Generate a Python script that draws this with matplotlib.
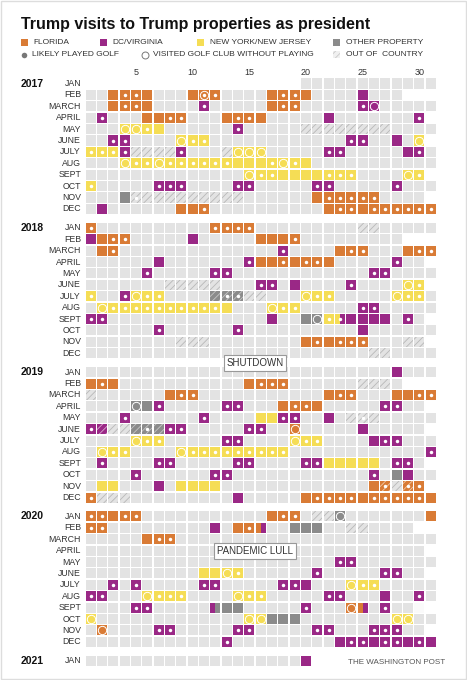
import calendar
import matplotlib.pyplot as plt
from matplotlib.patches import Rectangle

plt.rcParams['font.family'] = ['Liberation Sans', 'DejaVu Sans']
plt.rcParams['hatch.linewidth'] = 0.6

years = [2017, 2018, 2019, 2020, 2021]
month_names = ['JAN', 'FEB', 'MARCH', 'APRIL', 'MAY', 'JUNE',
               'JULY', 'AUG', 'SEPT', 'OCT', 'NOV', 'DEC']
day_ticks = [5, 10, 15, 20, 25, 30]
first_day = (2017, 1, 20)
last_day = (2021, 1, 20)

# (month, first day, last day, place)
# F florida, D dc/virginia, N ny/nj, O other, X abroad, ?X = hatched, a|b = split cell
visits_2017 = [
    (2, 3, 6, 'F'), (2, 10, 12, 'F'), (2, 17, 20, 'F'), (2, 25, 25, 'D'),
    (3, 3, 6, 'F'), (3, 11, 11, 'D'), (3, 17, 19, 'F'), (3, 25, 26, 'D'),
    (4, 2, 2, 'D'), (4, 6, 9, 'F'), (4, 13, 16, 'F'), (4, 22, 22, 'D'), (4, 30, 30, 'D'),
    (5, 4, 7, 'N'), (5, 14, 14, 'D'), (5, 20, 27, 'X'),
    (6, 3, 4, 'D'), (6, 9, 11, 'N'), (6, 24, 25, 'D'), (6, 28, 28, 'D'), (6, 30, 30, 'N'),
    (7, 1, 3, 'N'), (7, 4, 4, 'D'), (7, 5, 8, 'X'), (7, 9, 9, 'D'), (7, 13, 13, 'X'),
    (7, 14, 16, 'N'), (7, 22, 23, 'D'), (7, 29, 30, 'D'),
    (8, 4, 20, 'N'),
    (9, 15, 24, 'N'), (9, 29, 30, 'N'),
    (10, 1, 1, 'N'), (10, 7, 9, 'D'), (10, 14, 15, 'D'), (10, 21, 22, 'D'), (10, 28, 28, 'D'),
    (11, 4, 4, 'O'), (11, 5, 14, 'X'), (11, 21, 26, 'F'),
    (12, 2, 2, 'D'), (12, 9, 11, 'F'), (12, 22, 31, 'F'),
]
golf_2017 = [
    (2, [4, 5, 11, 12, 18, 19]), (3, [4, 5, 11, 18, 19, 25]), (4, [2, 8, 9, 14, 15, 30]),
    (5, [6, 14]), (6, [3, 4, 10, 11, 24, 25]), (7, [1, 2, 3, 4, 9, 22, 23, 30]),
    (8, [5, 6, 8, 9, 10, 11, 12, 13, 17, 19]), (9, [16, 17, 22, 23, 24, 30]),
    (10, [1, 7, 8, 9, 14, 15, 21, 22, 28]), (11, [5, 22, 23, 24, 25, 26]),
    (12, [11, 23, 24, 26, 27, 28, 29, 30, 31]),
]
circle_2017 = [
    (2, [11]), (3, [26]), (5, [4, 5]), (6, [9, 30]), (7, [14, 15, 16]),
    (8, [4, 7, 18]), (9, [15, 29]),
]

visits_2018 = [
    (1, 1, 1, 'F'), (1, 12, 15, 'F'), (1, 25, 26, 'X'),
    (2, 1, 1, 'D'), (2, 2, 4, 'F'), (2, 10, 10, 'D'), (2, 16, 19, 'F'),
    (3, 2, 3, 'F'), (3, 18, 18, 'D'), (3, 23, 25, 'F'), (3, 29, 31, 'F'),
    (4, 7, 7, 'D'), (4, 15, 15, 'D'), (4, 16, 22, 'F'), (4, 28, 28, 'D'),
    (5, 6, 6, 'D'), (5, 12, 13, 'D'), (5, 26, 27, 'D'),
    (6, 8, 12, 'X'), (6, 16, 17, 'D'), (6, 19, 19, 'D'), (6, 24, 24, 'D'), (6, 29, 30, 'N'),
    (7, 1, 1, 'N'), (7, 4, 4, 'D'), (7, 5, 7, 'N'), (7, 12, 14, 'OX'), (7, 15, 16, 'X'),
    (7, 20, 22, 'N'), (7, 28, 30, 'N'),
    (8, 2, 13, 'N'), (8, 17, 19, 'N'), (8, 25, 26, 'D'),
    (9, 1, 2, 'D'), (9, 17, 17, 'D'), (9, 20, 21, 'O'), (9, 22, 22, 'N'), (9, 23, 23, 'N|D'),
    (9, 24, 27, 'D'), (9, 29, 29, 'D'),
    (10, 7, 7, 'D'), (10, 14, 14, 'D'), (10, 25, 25, 'D'),
    (11, 9, 11, 'X'), (11, 20, 25, 'F'), (11, 29, 30, 'X'),
    (12, 26, 27, 'X'),
]
golf_2018 = [
    (1, [1, 12, 13, 14, 15]), (2, [3, 4, 19]), (3, [3, 18, 24, 25, 30, 31]),
    (4, [15, 18, 20, 21, 28]), (5, [6, 12, 13, 26, 27]), (6, [16, 17, 24, 30]),
    (7, [1, 4, 6, 7, 13, 14, 21, 22, 29, 30]),
    (8, [3, 4, 5, 6, 7, 8, 9, 10, 11, 12, 18, 19, 25, 26]),
    (9, [1, 2, 22, 23, 29]), (10, [7, 14]), (11, [21, 23, 24, 25]),
]
circle_2018 = [(6, [29]), (7, [5, 20, 28]), (8, [2, 17]), (9, [21])]

visits_2019 = [
    (1, 28, 28, 'D'),
    (2, 1, 3, 'F'), (2, 15, 18, 'F'), (2, 25, 27, 'X'),
    (3, 1, 1, 'X'), (3, 8, 10, 'F'), (3, 22, 24, 'F'), (3, 28, 31, 'F'),
    (4, 5, 6, 'O'), (4, 7, 7, 'D'), (4, 13, 14, 'D'), (4, 18, 21, 'F'), (4, 27, 28, 'D'),
    (5, 4, 4, 'D'), (5, 11, 11, 'D'), (5, 16, 17, 'N'), (5, 18, 19, 'D'), (5, 22, 22, 'D'),
    (5, 24, 26, 'X'),
    (6, 1, 1, 'D'), (6, 2, 2, 'DX'), (6, 3, 4, 'X'), (6, 5, 7, 'OX'), (6, 8, 9, 'D'),
    (6, 15, 16, 'D'), (6, 19, 19, 'F'), (6, 25, 25, 'D'),
    (7, 5, 7, 'N'), (7, 13, 14, 'D'), (7, 19, 21, 'N'), (7, 26, 28, 'D'),
    (8, 2, 4, 'N'), (8, 9, 18, 'N'), (8, 31, 31, 'D'),
    (9, 2, 2, 'D'), (9, 7, 8, 'D'), (9, 14, 15, 'D'), (9, 20, 21, 'D'), (9, 22, 26, 'N'),
    (9, 28, 29, 'D'),
    (10, 5, 5, 'D'), (10, 12, 13, 'D'), (10, 26, 26, 'D'), (10, 28, 28, 'O'), (10, 29, 29, 'D'),
    (11, 2, 3, 'N'), (11, 7, 7, 'D'), (11, 9, 12, 'N'), (11, 26, 26, 'F'), (11, 27, 27, 'FX'),
    (11, 28, 28, 'X'), (11, 29, 29, 'FX'), (11, 30, 30, 'F'),
    (12, 1, 1, 'F'), (12, 2, 4, 'X'), (12, 14, 14, 'D'), (12, 20, 31, 'F'),
]
golf_2019 = [
    (2, [2, 16, 17, 18]), (3, [9, 10, 23, 24, 30, 31]), (4, [7, 13, 14, 19, 20, 27, 28]),
    (5, [4, 11, 18, 19, 25]), (6, [1, 6, 8, 9, 15, 16]), (7, [6, 7, 13, 14, 20, 21, 27, 28]),
    (8, [3, 4, 10, 11, 12, 13, 14, 15, 16, 17, 18, 31]),
    (9, [2, 7, 8, 14, 15, 20, 21, 28, 29]), (10, [5, 12, 13, 26]), (11, [27, 29, 30]),
    (12, [1, 21, 22, 23, 24, 26, 27, 28, 29, 30]),
]
circle_2019 = [(4, [5]), (6, [19]), (7, [5, 19]), (8, [2, 9])]

visits_2020 = [
    (1, 1, 5, 'F'), (1, 17, 19, 'F'), (1, 21, 22, 'X'), (1, 23, 23, 'O'), (1, 31, 31, 'F'),
    (2, 1, 2, 'F'), (2, 12, 12, 'D'), (2, 14, 15, 'F'), (2, 16, 16, 'F|D'), (2, 19, 21, 'O'),
    (2, 24, 25, 'X'),
    (3, 6, 8, 'F'),
    (5, 23, 24, 'D'),
    (6, 11, 14, 'N'), (6, 21, 21, 'D'), (6, 27, 28, 'D'),
    (7, 3, 3, 'D'), (7, 5, 5, 'D'), (7, 11, 12, 'D'), (7, 18, 20, 'D'), (7, 24, 26, 'N'),
    (8, 1, 2, 'D'), (8, 6, 9, 'N'), (8, 14, 16, 'N'), (8, 22, 23, 'D'), (8, 27, 27, 'D'),
    (8, 30, 30, 'D'),
    (9, 5, 6, 'D'), (9, 12, 12, 'D|O'), (9, 13, 14, 'O'), (9, 20, 20, 'D'), (9, 24, 24, 'F'),
    (9, 25, 25, 'F|D'), (9, 27, 27, 'D'), (9, 30, 30, 'W'),
    (10, 1, 1, 'N'), (10, 15, 16, 'N'), (10, 17, 19, 'O'), (10, 28, 29, 'N'),
    (11, 2, 2, 'F'), (11, 7, 8, 'D'), (11, 14, 15, 'D'), (11, 21, 22, 'D'), (11, 26, 28, 'D'),
    (12, 13, 13, 'D'), (12, 23, 31, 'D'),
]
golf_2020 = [
    (1, [1, 2, 4, 5, 18, 19]), (2, [1, 2, 15]), (3, [7, 8]), (5, [23, 24]),
    (6, [14, 21, 27, 28]), (7, [3, 5, 11, 12, 18, 19, 25, 26]),
    (8, [1, 2, 7, 8, 9, 15, 16, 22, 23, 30]), (9, [5, 6, 20, 27]),
    (11, [7, 8, 14, 15, 21, 22, 26, 27, 28]), (12, [13, 24, 25, 27, 28, 30]),
]
circle_2020 = [(1, [23]), (6, [13]), (7, [24]), (8, [6, 14]), (9, [24]),
               (10, [1, 15, 16, 28, 29]), (11, [2])]

visits_2021 = [(1, 20, 20, 'D')]
golf_2021 = []
circle_2021 = []

visits = [visits_2017, visits_2018, visits_2019, visits_2020, visits_2021]
golf = [golf_2017, golf_2018, golf_2019, golf_2020, golf_2021]
circles = [circle_2017, circle_2018, circle_2019, circle_2020, circle_2021]

place_color = {'F': '#d97b35', 'D': '#9a2886', 'N': '#f5dd55', 'O': '#8b8b8b',
               'X': '#e3e3e3', 'W': '#fafafa'}
hatch_color = {'X': '#b8b8b8', 'OX': '#c6c6c6', 'DX': '#dcaad3', 'FX': '#f2caa8'}
empty_color = '#e3e3e3'
text_color = '#333333'

year_step = 12.66
cell = 0.88

fig = plt.figure(figsize=(4.67, 6.8), dpi=100)
ax = fig.add_axes([0, 0, 1, 1])
ax.set_xlim(-7.005, 34.213)
ax.set_ylim(52.325, -7.325)
ax.axis('off')


def draw_cell(d, r, code):
    if '|' in code:
        a, b = code.split('|')
        ax.add_patch(Rectangle((d - cell / 2, r - cell / 2), cell / 2, cell, fc=place_color[a], lw=0))
        ax.add_patch(Rectangle((d, r - cell / 2), cell / 2, cell, fc=place_color[b], lw=0))
        return
    ax.add_patch(Rectangle((d - cell / 2, r - cell / 2), cell, cell, fc=place_color[code[0]], lw=0))
    if code.endswith('X'):
        ax.add_patch(Rectangle((d - cell / 2, r - cell / 2), cell, cell, fill=False,
                               hatch='/////', ec=hatch_color[code], lw=0))


for yi, year in enumerate(years):
    months = range(1, 13) if year < last_day[0] else range(1, last_day[1] + 1)
    for m in months:
        r = yi * year_step + (m - 1)
        n = calendar.monthrange(year, m)[1]
        start = first_day[2] if (year, m) == first_day[:2] else 1
        stop = last_day[2] if (year, m) == last_day[:2] else n
        for d in range(start, stop + 1):
            ax.add_patch(Rectangle((d - cell / 2, r - cell / 2), cell, cell, fc=empty_color, lw=0))
        ax.text(0.15, r, month_names[m - 1], ha='right', va='center', fontsize=6.3, color=text_color)
    ax.text(-5.15, yi * year_step, str(year), ha='left', va='center', fontsize=7.5,
            fontweight='bold', color='#111111')

    for m, d0, d1, code in visits[yi]:
        r = yi * year_step + (m - 1)
        for d in range(d0, d1 + 1):
            draw_cell(d, r, code)

    for m, days in golf[yi]:
        r = yi * year_step + (m - 1)
        ax.plot(days, [r] * len(days), 'o', ms=2.5, mfc='white', mec='none', ls='none')
    for m, days in circles[yi]:
        r = yi * year_step + (m - 1)
        ax.plot(days, [r] * len(days), 'o', ms=6, mfc='none', mec='white', mew=0.7, ls='none')

for d in day_ticks:
    ax.text(d, -1.0, str(d), ha='center', va='center', fontsize=6.5, color=text_color)

# notes between / on rows
box = dict(boxstyle='square,pad=0.3', fc='white', ec='#999999', lw=0.8)
ax.text(15.5, year_step + 11 + (year_step - 11) / 2, 'SHUTDOWN', ha='center', va='center',
        fontsize=7, color=text_color, bbox=box)
ax.text(15.5, 3 * year_step + 3, 'PANDEMIC LULL', ha='center', va='center',
        fontsize=7, color=text_color, bbox=box)

# title, legend and credit in pixel coordinates
lax = fig.add_axes([0, 0, 1, 1], facecolor='none')
lax.set_xlim(0, 467)
lax.set_ylim(680, 0)
lax.axis('off')

lax.text(21, 24, 'Trump visits to Trump properties as president', fontsize=11.5,
         fontweight='bold', va='center', ha='left', color='#111111')

legend_places = ['FLORIDA', 'DC/VIRGINIA', 'NEW YORK/NEW JERSEY', 'OTHER PROPERTY']
legend_keys = ['F', 'D', 'N', 'O']
swatch_x = [21, 100, 197, 333]
for lbl, key, x in zip(legend_places, legend_keys, swatch_x):
    lax.add_patch(Rectangle((x, 39), 6.5, 6.5, fc=place_color[key], lw=0))
    lax.text(x + 12.5, 42.5, lbl, fontsize=6, va='center', ha='left', color=text_color)

lax.plot([24], [54.5], 'o', ms=4, mfc='#777777', mec='none')
lax.text(32, 54.5, 'LIKELY PLAYED GOLF', fontsize=6, va='center', ha='left', color=text_color)
lax.plot([145], [54.5], 'o', ms=5, mfc='white', mec='#777777', mew=0.7)
lax.text(153, 54.5, 'VISITED GOLF CLUB WITHOUT PLAYING', fontsize=6, va='center', ha='left',
         color=text_color)
lax.add_patch(Rectangle((333, 51), 6.5, 6.5, fc='#f0f0f0', lw=0))
lax.add_patch(Rectangle((333, 51), 6.5, 6.5, fill=False, hatch='/////', ec='#c8c8c8', lw=0))
lax.text(346, 54.5, 'OUT OF  COUNTRY', fontsize=6, va='center', ha='left', color=text_color)

lax.text(348, 662, 'THE WASHINGTON POST', fontsize=5.8, va='center', ha='left', color='#555555')
lax.add_patch(Rectangle((0.5, 0.5), 465.5, 678.5, fill=False, ec='#dddddd', lw=1))

fig.savefig('out.png', dpi=100)
